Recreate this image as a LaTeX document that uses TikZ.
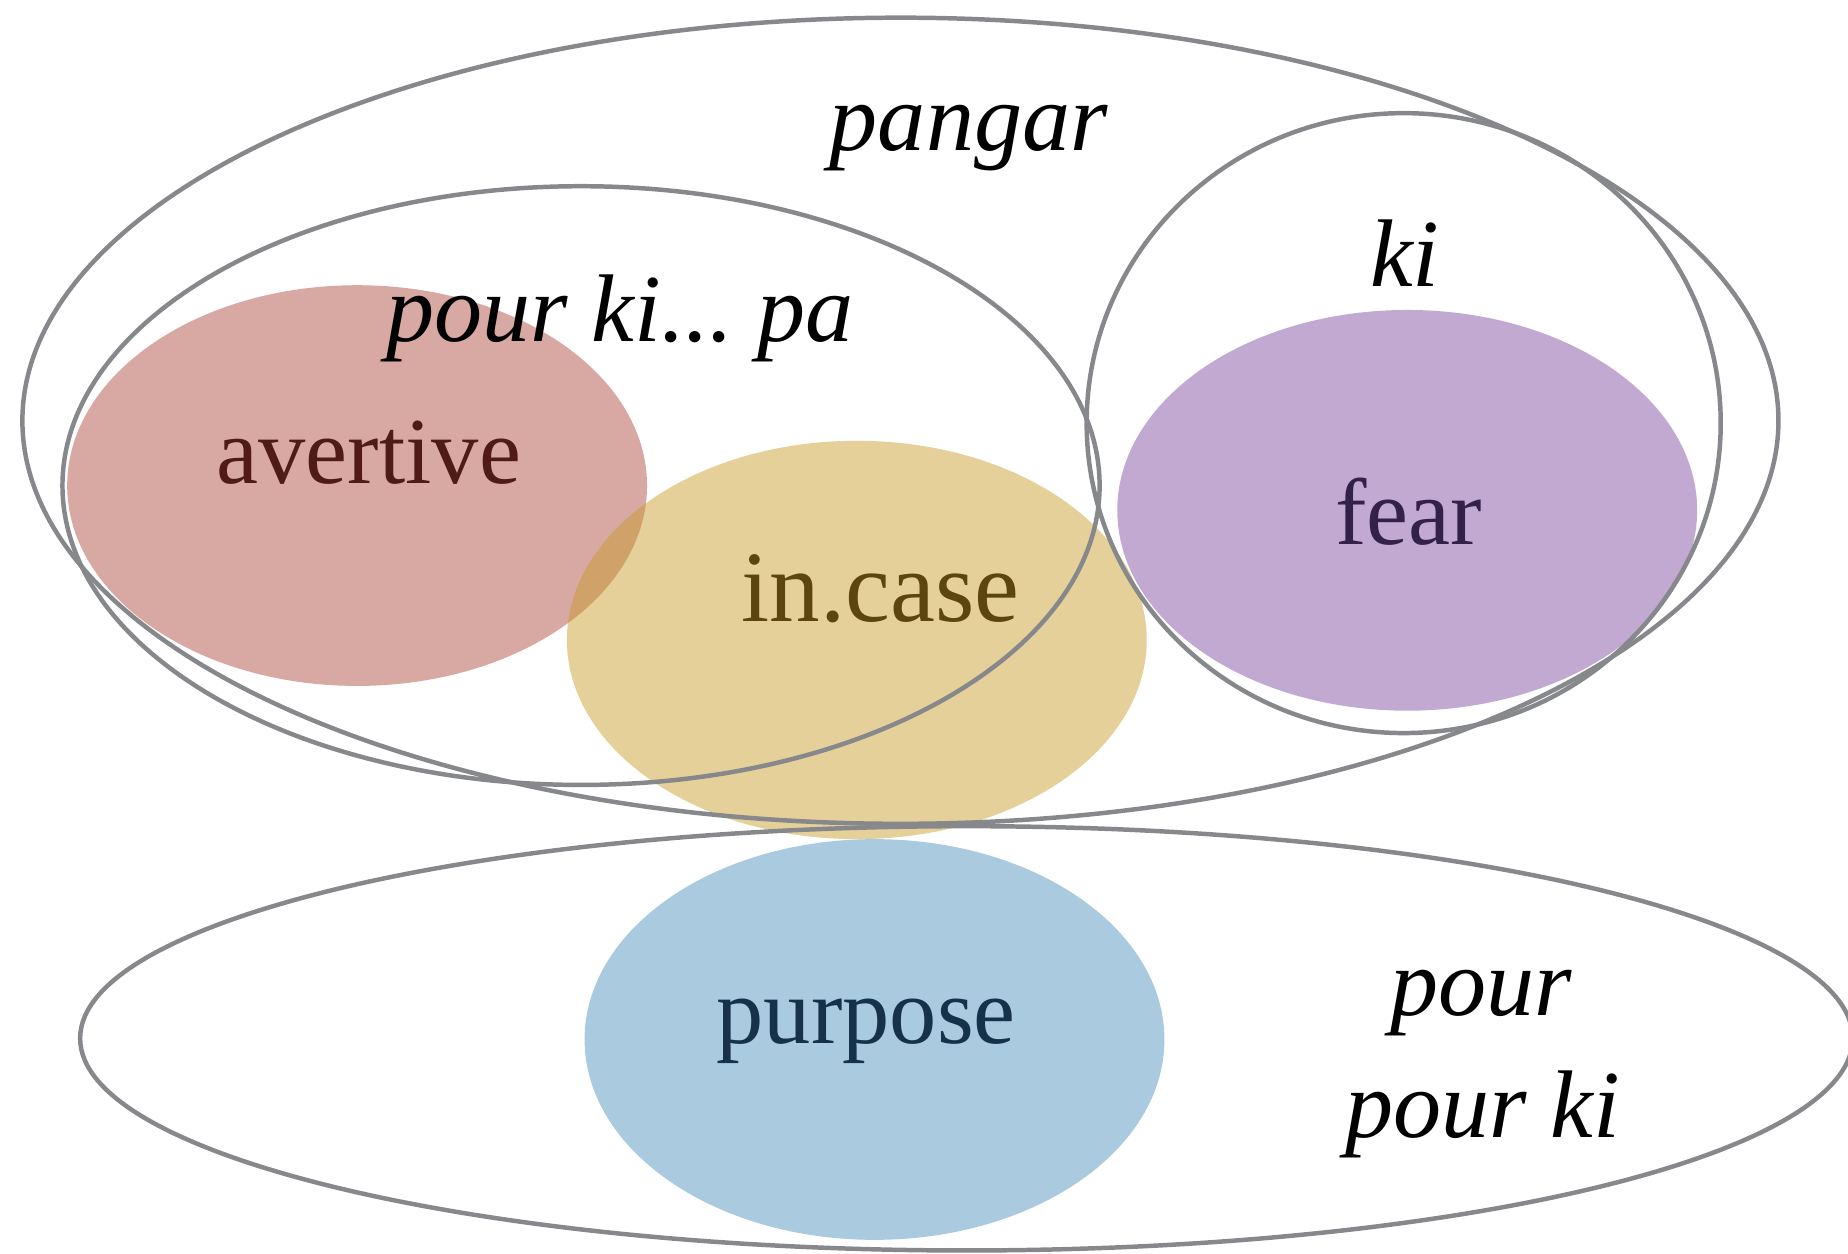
\documentclass[tikz,border=0pt]{standalone}
\usepackage{fontspec}
\setmainfont{Liberation Serif}
\frenchspacing
\definecolor{ring}{HTML}{86888C}
\definecolor{avC}{RGB}{169,64,51}
\definecolor{icC}{RGB}{198,151,31}
\definecolor{feC}{RGB}{118,64,156}
\definecolor{puC}{RGB}{67,138,184}
\definecolor{avT}{HTML}{4E1C14}
\definecolor{icT}{HTML}{5C4510}
\definecolor{feT}{HTML}{34214A}
\definecolor{puT}{HTML}{16324A}
\tikzset{
  blob/.style={fill opacity=0.45, draw=none},
  ring/.style={draw=ring, line width=2.7pt},
  up/.style={font=\fontsize{57}{66}\selectfont, anchor=base, inner sep=0pt},
  it/.style={font=\fontsize{58}{68}\selectfont\itshape, anchor=base, inner sep=0pt},
}
\begin{document}
\begin{tikzpicture}[x=0.025cm,y=-0.025cm]
\useasboundingbox (0,0) rectangle (1568,1064);
% fills
\fill[blob, avC] (303,412) ellipse [x radius=246, y radius=170];
\fill[blob, icC] (727,543) ellipse [x radius=246, y radius=169];
\fill[blob, feC] (1194,433) ellipse [x radius=246, y radius=170];
\fill[blob, puC] (742,882) ellipse [x radius=246, y radius=170];
% outlines
\draw[ring] (764,357) ellipse [x radius=745, y radius=342];
\draw[ring] (493,412) ellipse [x radius=440, y radius=254];
\draw[ring] (1191,359) ellipse [x radius=269, y radius=263];
\draw[ring] (820,881) ellipse [x radius=752, y radius=180];
% labels
\node[it] (pangar) at (822,128) {pangar};
\node[it] (pourkipa) at (526,290) {pour ki... pa};
\node[it] (ki) at (1192,243) {ki};
\node[up, text=avT] (avertive) at (313,410) {avertive};
\node[up, text=icT, font=\fontsize{61}{70}\selectfont] (incase) at (747,527) {in.case};
\node[up, text=feT] (fear) at (1195,462) {fear};
\node[up, text=puT] (purpose) at (735,885) {purpose};
\node[it] (pour) at (1257,862) {pour};
\node[it] (pourki) at (1258,965) {pour ki};
\end{tikzpicture}
\end{document}
